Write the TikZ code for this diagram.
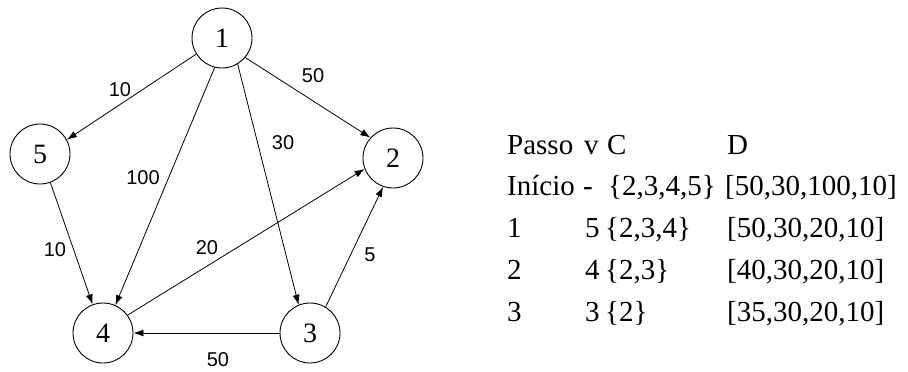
\documentclass[tikz,border=0pt]{standalone}
\usepackage{fontspec}
\setmainfont{Liberation Serif}
\newfontfamily\lblfont{Liberation Sans}
\usetikzlibrary{arrows.meta}
\begin{document}
\begin{tikzpicture}[x=1pt,y=-1pt,
  vertex/.style={circle, draw, line width=0.9pt, minimum size=60pt, inner sep=0pt, font=\fontsize{28}{30}\selectfont},
  edge/.style={-{Latex[length=10pt,width=7pt]}, line width=0.8pt},
  wt/.style={font=\lblfont\fontsize{20}{22}\selectfont, inner sep=0pt},
  cell/.style={anchor=base west, inner sep=0pt, font=\fontsize{29}{33}\selectfont}]
\useasboundingbox (0,0) rectangle (908,372);
% vertices
\node[vertex] (n1) at (222,38) {1};
\node[vertex] (n5) at (40,154) {5};
\node[vertex] (n2) at (393,158) {2};
\node[vertex] (n4) at (103,333) {4};
\node[vertex] (n3) at (310,333) {3};
% edges
\draw[edge] (n1.-148) -- (n5.28);
\draw[edge] (n1.-40) -- (n2.138);
\draw[edge] (n1.-104) -- (n4.66);
\draw[edge] (n1.-59) -- (n3.112);
\draw[edge] (n5.-70) -- (n4.110);
\draw[edge] (n4.36) -- (n2.-159);
\draw[edge] (n3.59) -- (n2.-109);
\draw[edge] (n3.180) -- (n4.0);
% weights
\node[wt] (w15) at (120,90) {10};
\node[wt] (w12) at (313,76) {50};
\node[wt] (w13) at (283,143) {30};
\node[wt] (w14) at (143,178) {100};
\node[wt] (w54) at (55,250) {10};
\node[wt] (w42) at (207,248) {20};
\node[wt] (w32) at (370,255) {5};
\node[wt] (w34) at (218,360) {50};
% table
\node[cell] (h0) at (507,154) {Passo};
\node[cell] (h1) at (584,154) {v};
\node[cell] (h2) at (607,154) {C};
\node[cell] (h3) at (727,154) {D};
\node[cell] (a0) at (507,195) {Início};
\node[cell] (a1) at (583,195) {-};
\node[cell] (a2) at (608,195) {\{2,3,4,5\}};
\node[cell] (a3) at (725,195) {[50,30,100,10]};
\node[cell] (b0) at (507,237) {1};
\node[cell] (b1) at (585,237) {5};
\node[cell] (b2) at (605,237) {\{2,3,4\}};
\node[cell] (b3) at (727,237) {[50,30,20,10]};
\node[cell] (c0) at (507,279) {2};
\node[cell] (c1) at (585,279) {4};
\node[cell] (c2) at (605,279) {\{2,3\}};
\node[cell] (c3) at (727,279) {[40,30,20,10]};
\node[cell] (d0) at (507,321) {3};
\node[cell] (d1) at (585,321) {3};
\node[cell] (d2) at (605,321) {\{2\}};
\node[cell] (d3) at (727,321) {[35,30,20,10]};
\end{tikzpicture}
\end{document}
